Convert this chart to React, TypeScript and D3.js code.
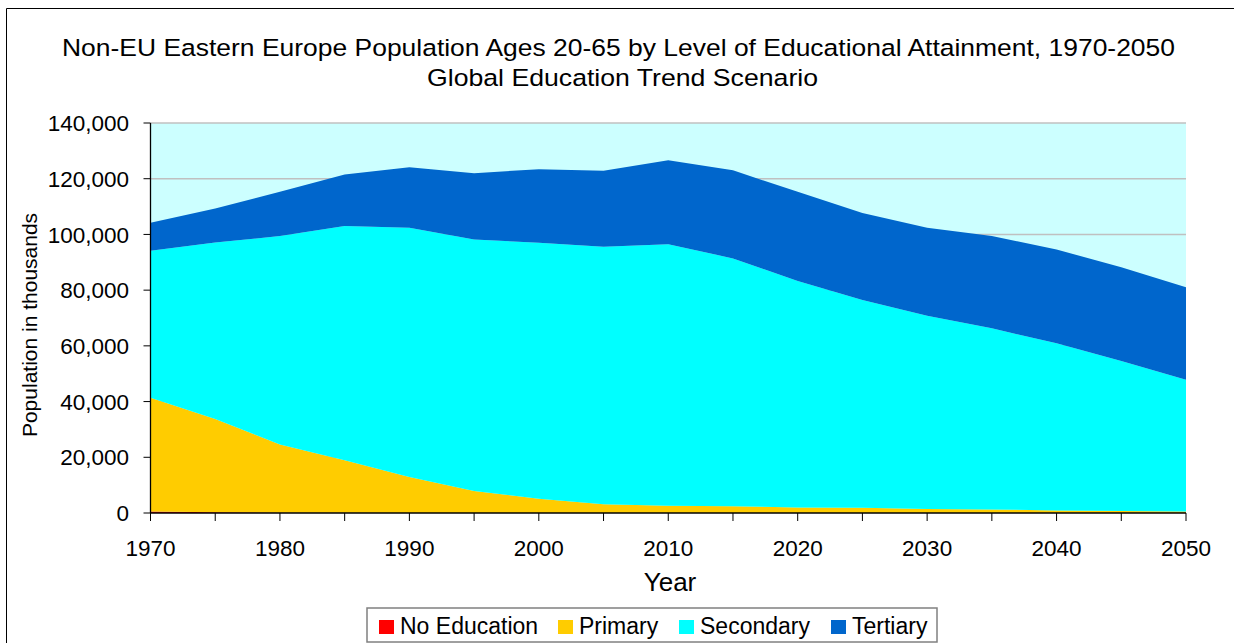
import React from "react";
import * as d3 from "d3";

const years = [1970, 1975, 1980, 1985, 1990, 1995, 2000, 2005, 2010, 2015, 2020, 2025, 2030, 2035, 2040, 2045, 2050];
const noEducation = [500, 300, 100, 50, 0, 0, 0, 0, 0, 0, 0, 0, 0, 0, 0, 0, 0];
const primary = [40900, 33400, 24500, 18850, 12900, 7900, 5100, 3100, 2600, 2400, 2000, 1900, 1400, 1300, 900, 700, 500];
const secondary = [52700, 63400, 74800, 84100, 89500, 90300, 91900, 92500, 93900, 89000, 81300, 74600, 69400, 65000, 60000, 53900, 47300];
const tertiary = [10100, 12200, 15900, 18500, 21700, 23800, 26400, 27300, 30100, 31600, 32000, 31200, 31600, 33100, 33700, 33600, 33200];

const seriesNames = ["No Education", "Primary", "Secondary", "Tertiary"];
const seriesColors = ["#FF0000", "#FFCC00", "#00FFFF", "#0066CC"];
const yTicks = [0, 20000, 40000, 60000, 80000, 100000, 120000, 140000];
const xLabelYears = [1970, 1980, 1990, 2000, 2010, 2020, 2030, 2040, 2050];

const W = 1234;
const H = 643;
const L = 150.5, R = 1186, T = 123, B = 513;
const FONT = "'Liberation Sans', Arial, sans-serif";

export default function App() {
  const x = d3.scaleLinear().domain([1970, 2050]).range([L, R]);
  const y = d3.scaleLinear().domain([0, 140000]).range([B, T]);

  const rows = years.map((yr, i) => ({
    year: yr,
    "No Education": noEducation[i],
    Primary: primary[i],
    Secondary: secondary[i],
    Tertiary: tertiary[i],
  }));
  const stack = d3.stack<any>().keys(seriesNames)(rows);
  const area = d3
    .area<any>()
    .x((d) => x(d.data.year))
    .y0((d) => y(d[0]))
    .y1((d) => y(d[1]))
    .curve(d3.curveLinear);

  const legendX = [379, 558, 679, 831];

  return (
    <svg
      width={W}
      height={H}
      style={{ position: "absolute", left: 0, top: 0, background: "#fff" }}
      fontFamily={FONT}
    >
      <rect x={0} y={0} width={W} height={H} fill="#fff" />
      {/* outer chart border */}
      <line x1={6.5} y1={8.5} x2={W} y2={8.5} stroke="#000" strokeWidth={1} />
      <line x1={6.5} y1={8.5} x2={6.5} y2={H} stroke="#000" strokeWidth={1} />

      {/* title */}
      <text x={62} y={56} fontSize={24.5} fill="#000" textLength={1113} lengthAdjust="spacingAndGlyphs">
        Non-EU Eastern Europe Population Ages 20-65 by Level of Educational Attainment, 1970-2050
      </text>
      <text x={427} y={86} fontSize={24.5} fill="#000" textLength={391} lengthAdjust="spacingAndGlyphs">
        Global Education Trend Scenario
      </text>

      {/* plot background */}
      <rect x={L} y={T} width={R - L} height={B - T} fill="#CCFFFF" />
      {yTicks.filter((t) => t > 0).map((t) => (
        <line key={t} x1={L} x2={R} y1={y(t)} y2={y(t)} stroke="#C0C0C0" strokeWidth={1.5} />
      ))}

      {/* areas */}
      {stack.map((s, i) => (
        <path key={seriesNames[i]} d={area(s) || ""} fill={seriesColors[i]} />
      ))}

      {/* axes */}
      <line x1={L} x2={L} y1={T} y2={B} stroke="#000" strokeWidth={1.3} />
      <line x1={L} x2={R} y1={B} y2={B} stroke="#000" strokeWidth={1.3} />
      {yTicks.map((t) => (
        <g key={t}>
          <line x1={L - 7} x2={L} y1={y(t)} y2={y(t)} stroke="#000" strokeWidth={1} />
          <text x={129} y={y(t)} dy="0.36em" textAnchor="end" fontSize={22.5} fill="#000">
            {d3.format(",")(t)}
          </text>
        </g>
      ))}
      {years.map((yr) => (
        <line key={yr} x1={x(yr)} x2={x(yr)} y1={B} y2={B + 8} stroke="#000" strokeWidth={1} />
      ))}
      {xLabelYears.map((yr) => (
        <text key={yr} x={x(yr)} y={556} textAnchor="middle" fontSize={22.5} fill="#000">
          {yr}
        </text>
      ))}

      {/* axis titles */}
      <text x={670} y={591} textAnchor="middle" fontSize={26} fill="#000">
        Year
      </text>
      <text
        transform={`translate(37, 325) rotate(-90)`}
        textAnchor="middle"
        fontSize={21}
        fill="#000"
      >
        Population in thousands
      </text>

      {/* legend */}
      <rect x={367} y={608} width={570} height={34} fill="#fff" stroke="#808080" strokeWidth={1.5} />
      {seriesNames.map((n, i) => (
        <g key={n}>
          <rect x={legendX[i]} y={620} width={15} height={14} fill={seriesColors[i]} />
          <text x={legendX[i] + 21} y={634} fontSize={23} fill="#000">
            {n}
          </text>
        </g>
      ))}
    </svg>
  );
}
